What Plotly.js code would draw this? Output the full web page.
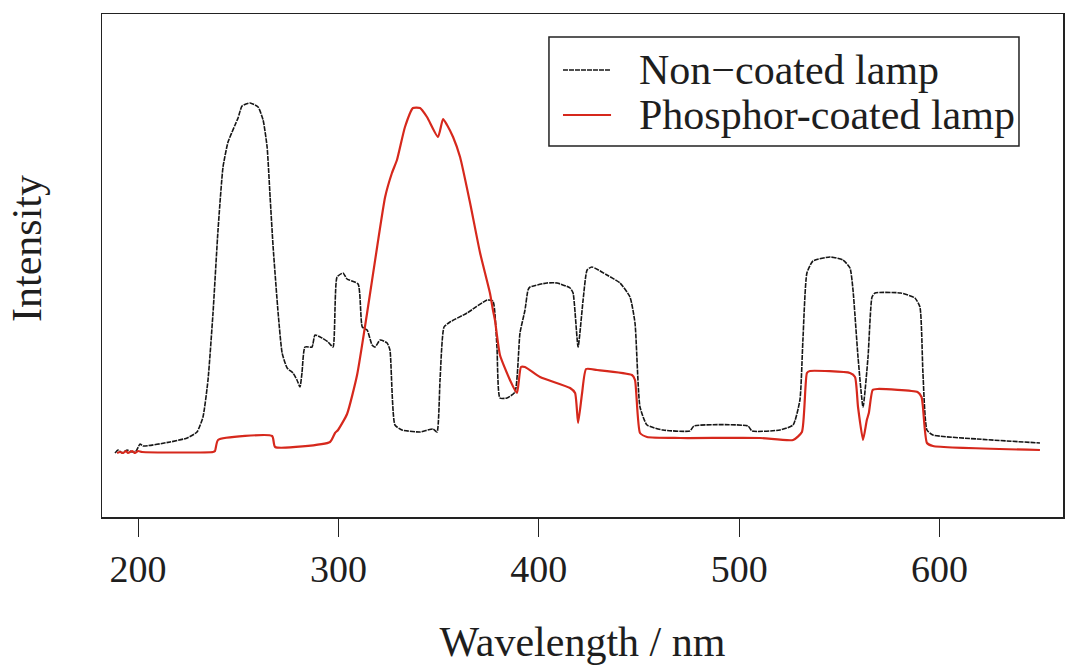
<!DOCTYPE html>
<html>
<head>
<meta charset="utf-8">
<script src="https://cdn.plot.ly/plotly-3.0.1.min.js"></script>
<style>html,body{margin:0;padding:0;background:#fff;}#chart{width:1065px;height:665px;}</style>
</head>
<body>
<div id="chart"></div>
<script>
// Wavelength (nm) and intensity (arbitrary units)
const nonCoatedWavelength = [188.5,190.0,192.0,194.5,197.0,199.0,201.0,202.5,216.0,224.5,229.4,232.4,234.9,237.4,239.9,242.4,244.9,248.4,249.9,251.9,255.9,259.9,262.4,264.4,265.9,267.4,269.9,271.9,274.4,277.3,279.3,280.8,281.8,283.3,286.8,288.3,291.8,294.8,297.3,299.3,302.3,304.3,309.8,311.9,314.3,316.8,318.3,320.8,324.3,325.7,328.2,331.7,340.7,347.2,349.2,350.7,352.7,355.7,364.2,374.2,377.1,379.1,380.6,384.1,388.1,390.6,393.1,394.6,395.6,404.1,409.1,415.6,417.1,419.6,422.1,424.1,426.5,434.0,440.5,445.5,448.0,450.5,454.0,462.0,475.4,477.4,504.4,506.4,520.4,526.9,530.3,531.8,533.8,536.8,545.3,551.8,555.3,556.8,559.3,561.8,564.3,566.3,567.8,580.6,587.7,590.2,591.7,593.7,596.7,618.7,650.1];
const nonCoatedIntensity = [64,67,64,67,65,66,73,71,75,79,85,100,137,204,287,350,375,392,399,411,414,410,397,370,320,270,204,164,149,144,137,130,144,170,170,182,179,175,170,240,244,238,233,190,187,172,170,177,174,167,92,87,85,88,85,137,190,195,204,217,216,170,119,119,125,184,207,227,230,234,234,229,224,170,217,247,250,242,234,220,194,110,92,87,86,91,91,86,87,92,117,177,244,256,260,257,249,227,160,110,160,220,224,224,219,210,144,87,82,78,74];

const coatedWavelength = [189.5,191.0,192.5,194.0,195.0,197.0,198.5,200.0,202.0,237.4,238.4,239.9,266.9,268.4,295.8,298.3,299.8,304.3,309.3,314.3,319.3,323.3,326.7,329.2,333.2,337.2,340.7,344.2,349.7,352.2,354.2,357.2,360.7,365.7,370.7,375.6,377.1,378.1,380.6,385.6,389.1,391.1,393.1,400.6,415.6,418.1,419.6,421.6,423.6,429.0,446.5,448.0,450.5,454.0,470.6,510.4,526.9,531.3,533.8,535.3,555.3,557.8,559.3,561.8,563.7,564.7,566.6,569.0,589.0,591.0,591.7,593.7,596.7,650.1];
const coatedIntensity = [64,65,64,66,64,66,64,66,65,65,66,77,81,70,75,84,87,103,142,204,270,320,344,357,390,409,409,400,380,398,392,380,360,314,264,224,207,197,162,137,124,150,150,140,129,124,94,124,148,147,142,137,84,80,79,79,77,85,144,146,144,140,110,77,97,104,127,128,125,120,110,74,71,67];

const seriesNames = ["Non\u2212coated lamp", "Phosphor-coated lamp"];
const xTicks = [200, 300, 400, 500, 600];
const xTickLabels = ["200", "300", "400", "500", "600"];
const xTitle = "Wavelength / nm";
const yTitle = "Intensity";

const serif = "'Liberation Serif', 'Times New Roman', serif";
const inkColor = "#1e1e1e";
const seriesColors = ["#161616", "#d6281c"];
const seriesWidths = [1.6, 2.2];
const seriesDash = ["5px,1px", "solid"];

const traces = [
  {
    x: nonCoatedWavelength, y: nonCoatedIntensity, name: seriesNames[0],
    type: "scatter", mode: "lines", showlegend: false,
    line: {color: seriesColors[0], width: seriesWidths[0], dash: seriesDash[0], shape: "spline", smoothing: 0.5}
  },
  {
    x: coatedWavelength, y: coatedIntensity, name: seriesNames[1],
    type: "scatter", mode: "lines", showlegend: false,
    line: {color: seriesColors[1], width: seriesWidths[1], shape: "spline", smoothing: 0.5}
  }
];

// Legend box (paper coordinates), drawn as in the reference
const legendBox = {x0: 0.4651, x1: 0.9542, y0: 0.7376, y1: 0.9543};
const legendRowsY = [0.8887, 0.7992];
const legendKeyX = [0.4797, 0.5297];
const legendTextX = 0.5567;

const shapes = [
  {type: "rect", xref: "paper", yref: "paper", x0: legendBox.x0, x1: legendBox.x1, y0: legendBox.y0, y1: legendBox.y1,
   line: {color: "#222", width: 1.5}, fillcolor: "#fff", layer: "above"}
];
const annotations = [];
seriesNames.forEach((nm, i) => {
  shapes.push({type: "line", xref: "paper", yref: "paper", x0: legendKeyX[0], x1: legendKeyX[1],
    y0: legendRowsY[i], y1: legendRowsY[i], layer: "above",
    line: {color: seriesColors[i], width: seriesWidths[i], dash: seriesDash[i]}});
  annotations.push({xref: "paper", yref: "paper", x: legendTextX, y: legendRowsY[i],
    xanchor: "left", yanchor: "middle", showarrow: false, text: nm,
    font: {family: serif, size: 42, color: inkColor}});
});
// y-axis title, centred as in the reference
annotations.push({xref: "paper", yref: "paper", x: -0.078, y: 0.533, xanchor: "center", yanchor: "middle",
  showarrow: false, textangle: -90, text: yTitle, font: {family: serif, size: 42, color: inkColor}});

const layout = {
  width: 1065, height: 665,
  margin: {l: 102, r: 2, t: 14, b: 148},
  paper_bgcolor: "#fff", plot_bgcolor: "#fff",
  showlegend: false,
  shapes: shapes,
  annotations: annotations,
  xaxis: {
    range: [182, 661.6], tickvals: xTicks, ticktext: xTickLabels,
    ticks: "outside", ticklen: 18, tickwidth: 1, tickcolor: "#222",
    showline: true, mirror: true, linecolor: "#222", linewidth: 1.5,
    showgrid: false, zeroline: false,
    tickfont: {family: serif, size: 38, color: inkColor},
    ticklabelstandoff: 0,
    title: {text: xTitle, font: {family: serif, size: 42, color: inkColor}, standoff: 42}
  },
  yaxis: {
    range: [0, 503], showticklabels: false, ticks: "",
    showline: true, mirror: true, linecolor: "#222", linewidth: 1.5,
    showgrid: false, zeroline: false
  }
};

Plotly.newPlot("chart", traces, layout, {displayModeBar: false, staticPlot: true});
</script>
</body>
</html>
